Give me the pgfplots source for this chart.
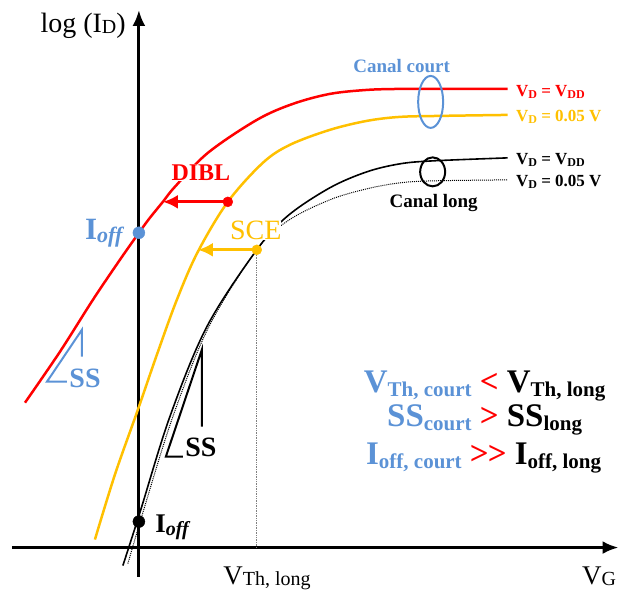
\documentclass[border=0pt]{standalone}
\usepackage{fontspec}
\setmainfont{Liberation Serif}
\usepackage{pgfplots}
\pgfplotsset{compat=1.18}
\usetikzlibrary{arrows.meta}
\definecolor{cred}{RGB}{255,0,0}
\definecolor{cyel}{RGB}{255,192,0}
\definecolor{cblue}{RGB}{91,146,214}
\newcommand{\fs}[1]{\fontsize{#1}{#1}\selectfont}
\newcommand{\low}[2][4pt]{\raisebox{-#1}{#2}}

\begin{document}
\begin{tikzpicture}
\begin{axis}[width=620pt,height=592pt,scale only axis,
  xmin=0,xmax=620,ymin=0,ymax=592,y dir=reverse,hide axis,clip=false]
\path (axis cs:0,0) rectangle (axis cs:620,592);
% axes
\addplot[black, line width=3pt, -{Latex[length=16pt,width=13pt]}] coordinates {(139,577)(139,10)};
\addplot[black, line width=3pt, -{Latex[length=16pt,width=13pt]}] coordinates {(12,548)(619,548)};
% vertical dotted
\addplot[gray, densely dotted, line width=0.7pt] coordinates {(257,250)(257,548)};
% red curve (short channel, VDD)
\addplot[cred, line width=2.5pt, smooth, tension=0.55] coordinates {
(25,403)(60,352)(93,300)(120,260)(139,233)(150,218)(163,202)(175,187)(208,153)(257,120)(293,104)(330,94)(367,90)(400,89)(440,89)(508,89)};
% yellow curve (short channel, 0.05 V)
\addplot[cyel, line width=2.5pt, smooth, tension=0.55] coordinates {
(95,540)(115,475)(138,410)(157,355)(177,300)(198,252)(228,202)(263,163)(290,145)(330,130)(367,121)(400,117)(440,116)(508,115)};
% black solid (long channel, VDD)
\addplot[black, line width=1.6pt, smooth, tension=0.55] coordinates {
(123,566)(140,513)(170,417)(207,327)(257,250)(288,216)(330,188)(367,172)(400,164)(433,161)(508,158)};
% black dotted (long channel, 0.05 V)
\addplot[black, line width=1pt, densely dotted, smooth, tension=0.55] coordinates {
(128,564)(143,513)(173,417)(209,327)(257,250)(288,221)(330,200)(367,189)(400,183)(433,181)(508,180)};
% SS triangles
\addplot[cblue, line width=2pt] coordinates {(82,357)(82,330)(47,382)(67,382)};
\addplot[black, line width=2pt] coordinates {(202,427)(202,350)(166,457)(183,457)};
% arrows DIBL and SCE
\addplot[cred, line width=3pt, -{Latex[length=15pt,width=14pt]}] coordinates {(228,202)(163,202)};
\addplot[cyel, line width=3pt, -{Latex[length=15pt,width=14pt]}] coordinates {(257,250)(198,250)};
% dots
\addplot[only marks, mark=*, mark size=5pt, cred] coordinates {(228,202)};
\addplot[only marks, mark=*, mark size=5pt, cyel] coordinates {(257,250)};
\addplot[only marks, mark=*, mark size=6pt, cblue] coordinates {(139,233)};
\addplot[only marks, mark=*, mark size=6pt, black] coordinates {(139,522)};
% ellipses
\draw[cblue, line width=2pt] (axis cs:431,102) ellipse [x radius=12.5pt, y radius=26pt];
\draw[black, line width=2pt] (axis cs:433,172) ellipse [x radius=12.5pt, y radius=14.5pt];
% labels
\node[fill=white, inner sep=0.5pt, text=cred, font=\fs{24}\bfseries] at (axis cs:201,173) {DIBL};
\node[fill=white, inner sep=0pt, text=cyel, font=\fs{28}] at (axis cs:256,231) {SCE};
\node[anchor=base west, font=\fs{28}] at (axis cs:37,33) {log (I\low[1pt]{\fs{20}D})};
\node[anchor=base east, font=\fs{27}] at (axis cs:620,585) {V\low[1pt]{\fs{20}G}};
\node[anchor=base west, font=\fs{27}] at (axis cs:220,585) {V\low[1pt]{\fs{20}Th, long}};
\node[anchor=base east, text=cblue, font=\fs{31}\bfseries] at (axis cs:126,240) {I\low[3pt]{\fs{22}\itshape off}};
\node[anchor=base west, text=black, font=\fs{27}\bfseries] at (axis cs:152,533) {I\low[3pt]{\fs{20}\itshape off}};
\node[anchor=base west, text=cblue, font=\fs{28}\bfseries] at (axis cs:66,388) {SS};
\node[anchor=base west, text=black, font=\fs{28}\bfseries] at (axis cs:182,457) {SS};
\node[anchor=base, text=cblue, font=\fs{19}\bfseries] at (axis cs:402,73) {Canal court};
\node[anchor=base, text=black, font=\fs{19}\bfseries] at (axis cs:434,208) {Canal long};
\node[anchor=base west, text=cred, font=\fs{17}\bfseries] at (axis cs:513,97) {V\low[2pt]{\fs{12}D} = V\low[2pt]{\fs{12}DD}};
\node[anchor=base west, text=cyel, font=\fs{17}\bfseries] at (axis cs:513,122) {V\low[2pt]{\fs{12}D} = 0.05 V};
\node[anchor=base west, text=black, font=\fs{17}\bfseries] at (axis cs:513,165) {V\low[2pt]{\fs{12}D} = V\low[2pt]{\fs{12}DD}};
\node[anchor=base west, text=black, font=\fs{17}\bfseries] at (axis cs:513,187) {V\low[2pt]{\fs{12}D} = 0.05 V};
% summary block
\node[anchor=base, font=\fs{33}\bfseries] at (axis cs:485,393) {\color{cblue}V\low{\fs{21}Th, court} \color{cred}< \color{black}V\low{\fs{21}Th, long}};
\node[anchor=base, font=\fs{33}\bfseries] at (axis cs:485,427) {\color{cblue}SS\low{\fs{21}court} \color{cred}> \color{black}SS\low{\fs{21}long}};
\node[anchor=base, font=\fs{33}\bfseries] at (axis cs:484,465) {\color{cblue}I\low{\fs{21}off, court} \color{cred}\textgreater\kern-1pt\textgreater{} \color{black}I\low{\fs{21}off, long}};
\end{axis}
\end{tikzpicture}
\end{document}
